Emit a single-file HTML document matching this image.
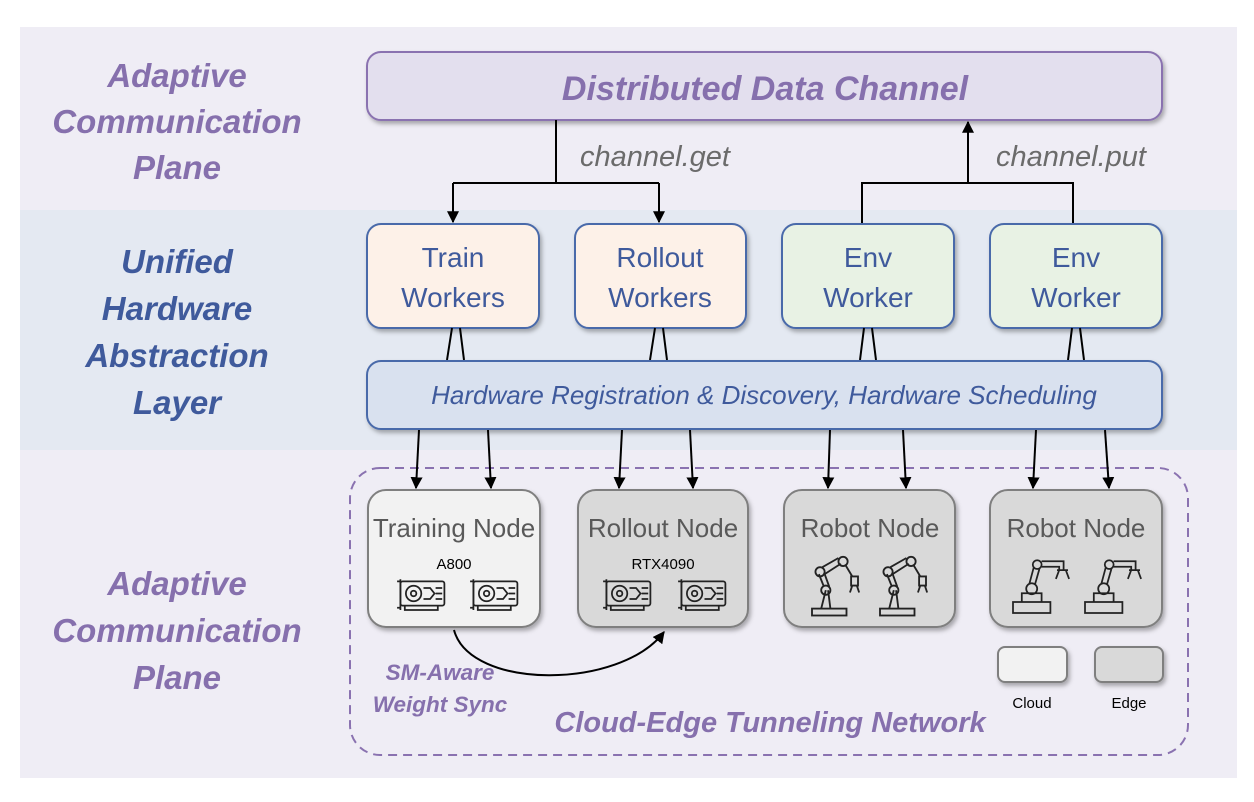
<!DOCTYPE html>
<html><head><meta charset="utf-8"><style>
html,body{margin:0;padding:0;background:#fff;}
svg{display:block;}
text{font-family:"Liberation Sans",sans-serif;}
.lab{font-weight:bold;font-style:italic;font-size:33px;text-anchor:middle;}
.p{fill:#8670ad;}
.b{fill:#3f5a9c;}
.wk{font-size:28px;fill:#3f5a9c;text-anchor:middle;}
.nd{font-size:26px;fill:#595959;text-anchor:middle;}
.sm{font-size:15px;fill:#000;text-anchor:middle;}
.ln{stroke:#000;stroke-width:2;fill:none;}
.ic{stroke:#222;stroke-width:1.6;fill:none;}
</style></head><body>
<svg width="1254" height="802" viewBox="0 0 1254 802" xmlns="http://www.w3.org/2000/svg">
<defs>
<marker id="ar" viewBox="0 0 10 10" refX="9" refY="5" markerWidth="6" markerHeight="6" orient="auto"><path d="M0,0 L10,5 L0,10 z" fill="#000"/></marker>
<filter id="sh" x="-10%" y="-10%" width="130%" height="140%"><feDropShadow dx="2" dy="3" stdDeviation="2" flood-color="#000" flood-opacity="0.3"/></filter>
<g id="gpu">
<rect x="4" y="4" width="40" height="22" rx="2" class="ic"/>
<path d="M4,2 v28 M1,4 h3 M1,28 h3 M8,26 v4 h30 v-4" class="ic"/>
<circle cx="16" cy="15" r="7" class="ic"/><circle cx="16" cy="15" r="2.5" class="ic"/>
<path d="M25,10 h6 l4,5 l-4,5 h-6 M36,10 h6 M36,15 h6 M36,20 h6" class="ic"/>
</g>
<g id="arm1">
<rect x="0" y="44" width="30" height="6" class="ic"/>
<path d="M8,44 l4,-16 M16,44 l-2,-16" class="ic"/>
<circle cx="12" cy="28" r="4" class="ic"/>
<path d="M10,24 l-4,-10 M15,25 l-4,-11" class="ic"/>
<circle cx="7" cy="12" r="4" class="ic"/>
<path d="M9,8 l14,-8 M11,14 l14,-9" class="ic"/>
<circle cx="27" cy="3" r="4" class="ic"/>
<path d="M29,6 l6,10 M34,16 h6 v8 h-6z M35,24 l-2,6 M39,24 l2,6" class="ic"/>
</g>
<g id="arm2">
<rect x="0" y="40" width="34" height="10" class="ic"/>
<path d="M8,40 v-8 h18 v8" class="ic"/>
<circle cx="17" cy="28" r="5" class="ic"/>
<path d="M15,23 l4,-15 M20,24 l4,-14" class="ic"/>
<circle cx="22" cy="6" r="4" class="ic"/>
<path d="M26,3 h20 v8 M26,8 h16 v3 M40,11 h10 M42,11 l-3,8 M48,11 l3,8" class="ic"/>
</g>
</defs>

<rect x="20" y="27" width="1217" height="183" fill="#efedf5"/>
<rect x="20" y="210" width="1217" height="240" fill="#e4e9f2"/>
<rect x="20" y="450" width="1217" height="328" fill="#efedf5"/>

<text class="lab p" x="177" y="87">Adaptive</text>
<text class="lab p" x="177" y="133">Communication</text>
<text class="lab p" x="177" y="179">Plane</text>
<text class="lab b" x="177" y="273">Unified</text>
<text class="lab b" x="177" y="320">Hardware</text>
<text class="lab b" x="177" y="367">Abstraction</text>
<text class="lab b" x="177" y="414">Layer</text>
<text class="lab p" x="177" y="595">Adaptive</text>
<text class="lab p" x="177" y="642">Communication</text>
<text class="lab p" x="177" y="689">Plane</text>

<rect x="367" y="52" width="795" height="68" rx="14" fill="#e3dfee" stroke="#8a72b0" stroke-width="2" filter="url(#sh)"/>
<text x="765" y="100" class="lab p" style="font-size:34px">Distributed Data Channel</text>

<path d="M556,120 V183 M453,183 H659" class="ln"/>
<path d="M453,183 V222" class="ln" marker-end="url(#ar)"/>
<path d="M659,183 V222" class="ln" marker-end="url(#ar)"/>
<path d="M862,224 V183 H1073 V224" class="ln"/>
<path d="M968,183 V122" class="ln" marker-end="url(#ar)"/>
<text x="580" y="166" style="font-size:29px;font-style:italic;fill:#6b6b6b">channel.get</text>
<text x="996" y="166" style="font-size:29px;font-style:italic;fill:#6b6b6b">channel.put</text>

<g stroke="#4a6aaa" stroke-width="2" filter="url(#sh)">
<rect x="367" y="224" width="172" height="104" rx="14" fill="#fdf1e8"/>
<rect x="575" y="224" width="171" height="104" rx="14" fill="#fdf1e8"/>
<rect x="782" y="224" width="172" height="104" rx="14" fill="#e8f2e4"/>
<rect x="990" y="224" width="172" height="104" rx="14" fill="#e8f2e4"/>
</g>
<text class="wk" x="453" y="267">Train</text><text class="wk" x="453" y="307">Workers</text>
<text class="wk" x="660" y="267">Rollout</text><text class="wk" x="660" y="307">Workers</text>
<text class="wk" x="868" y="267">Env</text><text class="wk" x="868" y="307">Worker</text>
<text class="wk" x="1076" y="267">Env</text><text class="wk" x="1076" y="307">Worker</text>

<path d="M452,328 L447,360 M460,328 L464,360 M655,328 L650,360 M663,328 L667,360 M864,328 L860,360 M872,328 L876,360 M1072,328 L1068,360 M1080,328 L1084,360" class="ln"/>

<rect x="367" y="361" width="795" height="68" rx="14" fill="#d9e1ef" stroke="#4a6aaa" stroke-width="2" filter="url(#sh)"/>
<text x="764" y="404" style="font-size:26px;font-style:italic;fill:#3f5a9c;text-anchor:middle">Hardware Registration &amp; Discovery, Hardware Scheduling</text>

<rect x="350" y="468" width="838" height="287" rx="30" fill="none" stroke="#8a72b0" stroke-width="2" stroke-dasharray="9,6"/>

<g>
<path d="M419,430 L416,488" class="ln" marker-end="url(#ar)"/>
<path d="M488,430 L491,488" class="ln" marker-end="url(#ar)"/>
<path d="M622,430 L619,488" class="ln" marker-end="url(#ar)"/>
<path d="M690,430 L693,488" class="ln" marker-end="url(#ar)"/>
<path d="M830,430 L828,488" class="ln" marker-end="url(#ar)"/>
<path d="M903,430 L906,488" class="ln" marker-end="url(#ar)"/>
<path d="M1036,430 L1033,488" class="ln" marker-end="url(#ar)"/>
<path d="M1105,430 L1109,488" class="ln" marker-end="url(#ar)"/>
</g>

<g stroke="#7f7f7f" stroke-width="2" filter="url(#sh)">
<rect x="368" y="490" width="172" height="137" rx="18" fill="#f2f2f2"/>
<rect x="578" y="490" width="170" height="137" rx="18" fill="#d9d9d9"/>
<rect x="784" y="490" width="171" height="137" rx="18" fill="#d9d9d9"/>
<rect x="990" y="490" width="172" height="137" rx="18" fill="#d9d9d9"/>
<rect x="998" y="647" width="69" height="35" rx="7" fill="#f2f2f2"/>
<rect x="1095" y="647" width="68" height="35" rx="7" fill="#d9d9d9"/>
</g>
<text class="nd" x="454" y="537">Training Node</text>
<text class="nd" x="663" y="537">Rollout Node</text>
<text class="nd" x="870" y="537">Robot Node</text>
<text class="nd" x="1076" y="537">Robot Node</text>
<text class="sm" x="454" y="569">A800</text>
<text class="sm" x="663" y="569">RTX4090</text>
<use href="#gpu" transform="translate(396,577) scale(1.1)"/><use href="#gpu" transform="translate(469,577) scale(1.1)"/>
<use href="#gpu" transform="translate(602,577) scale(1.1)"/><use href="#gpu" transform="translate(677,577) scale(1.1)"/>
<use href="#arm1" transform="translate(812,558) scale(1.15)"/><use href="#arm1" transform="translate(880,558) scale(1.15)"/>
<use href="#arm2" transform="translate(1013,558) scale(1.1)"/><use href="#arm2" transform="translate(1085,558) scale(1.1)"/>
<text class="sm" x="1032" y="708">Cloud</text>
<text class="sm" x="1129" y="708">Edge</text>

<path d="M454,630 C470,690 620,690 664,632" class="ln" marker-end="url(#ar)"/>
<text x="440" y="680" style="font-size:22.5px;font-weight:bold;font-style:italic;fill:#8670ad;text-anchor:middle">SM-Aware</text>
<text x="440" y="712" style="font-size:22.5px;font-weight:bold;font-style:italic;fill:#8670ad;text-anchor:middle">Weight Sync</text>
<text x="770" y="732" style="font-size:29px;font-weight:bold;font-style:italic;fill:#8670ad;text-anchor:middle">Cloud-Edge Tunneling Network</text>
</svg>
</body></html>
